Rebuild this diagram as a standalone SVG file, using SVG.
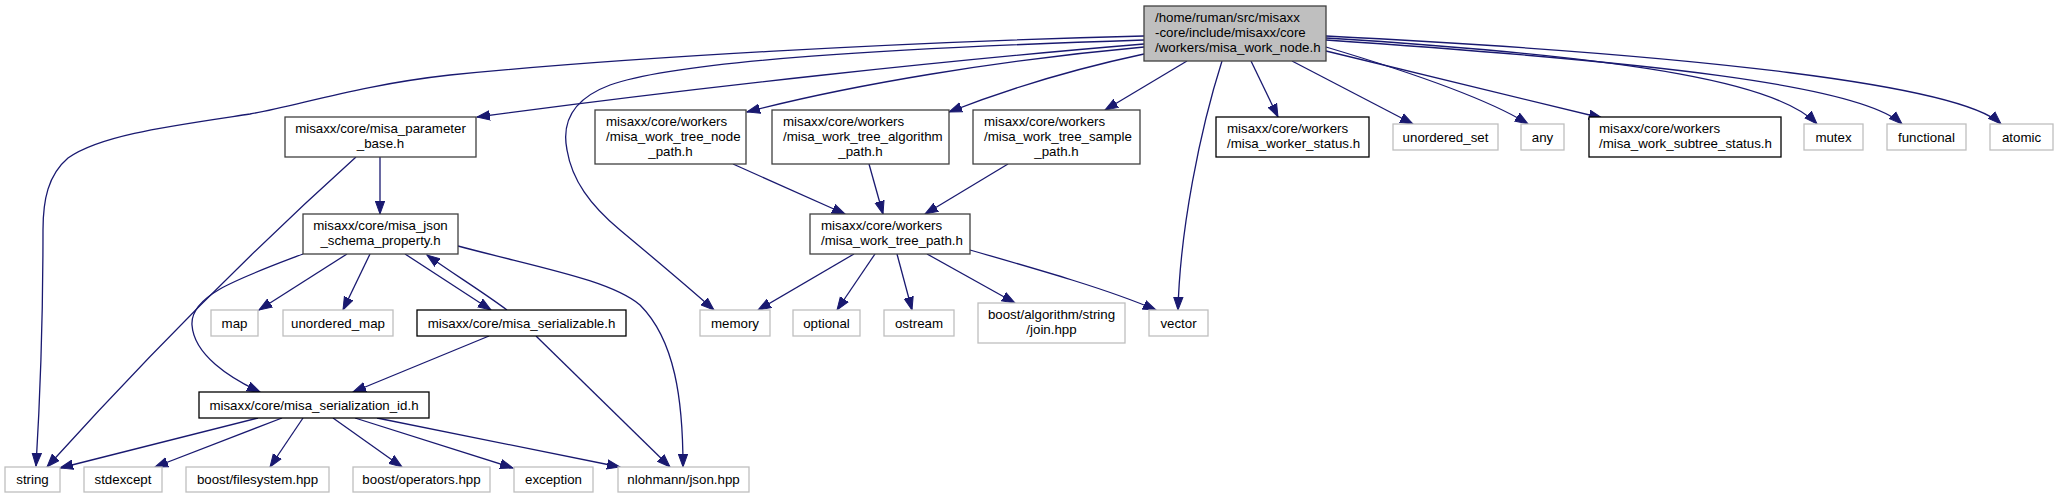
<svg xmlns="http://www.w3.org/2000/svg" width="2058" height="499" viewBox="0 0 2058 499">
<style>
text{font-family:"Liberation Sans",Arial,sans-serif;font-size:13.3px;fill:#000}
.c{text-anchor:middle}
.n rect{fill:#fff;stroke:#000;stroke-width:1.3}
.n.g rect{stroke:#404040}
.n.s rect{stroke:#bfbfbf}
.n.r rect{fill:#bfbfbf;stroke:#404040}
#edges path{fill:none;stroke:#191970;stroke-width:1.3;marker-end:url(#ah)}
</style>
<defs>
<marker id="ah" markerUnits="userSpaceOnUse" markerWidth="14" markerHeight="11" refX="13" refY="5" orient="auto" viewBox="0 0 14 10">
<path d="M0,0.3 L13,5 L0,9.7 z" fill="#191970" stroke="#191970" stroke-width="1"/>
</marker>
</defs>
<rect width="2058" height="499" fill="#fff"/>
<g id="edges">
<path d="M1144,36 C900,42 620,58 450,75 C360,85 300,105 250,114 C170,126 100,135 68,158 C48,175 43,200 43,230 C43,300 40,400 36,466"/>
<path d="M1144,44 C950,60 700,87 477,117"/>
<path d="M1144,40 C900,48 680,60 610,85 C570,100 562,125 567,150 C572,180 590,205 620,230 C650,255 680,280 714,310"/>
<path d="M1144,47 C1000,60 850,85 747,112"/>
<path d="M1144,54 C1060,72 1000,92 949,112"/>
<path d="M1187,61 L1105,110"/>
<path d="M1222,61 C1200,130 1180,230 1178,310"/>
<path d="M1251,61 L1278,117"/>
<path d="M1292,61 L1413,124"/>
<path d="M1326,47 C1420,75 1490,100 1528,124"/>
<path d="M1326,51 L1602,118"/>
<path d="M1326,38 C1650,58 1780,85 1817,124"/>
<path d="M1326,40 C1650,62 1860,85 1902,124"/>
<path d="M1326,36 C1700,55 1960,85 2001,124"/>
<path d="M380,157 L380,214"/>
<path d="M356,157 C245,257 142,362 47,467"/>
<path d="M347,254 L259,310"/>
<path d="M370,254 L343,310"/>
<path d="M303,254 C240,278 190,295 192,325 C194,355 230,378 260,392"/>
<path d="M405,254 L491,310"/>
<path d="M507,310 C480,290 455,275 427,255"/>
<path d="M458,246 C540,268 610,280 640,305 C675,340 683,400 683,467"/>
<path d="M489,336 L353,392"/>
<path d="M536,336 L670,467"/>
<path d="M258,418 L60,468"/>
<path d="M282,418 L155,467"/>
<path d="M303,418 L270,467"/>
<path d="M333,418 L402,467"/>
<path d="M355,418 L513,468"/>
<path d="M377,418 L620,467"/>
<path d="M733,164 L845,214"/>
<path d="M869,164 L883,214"/>
<path d="M1008,164 L925,214"/>
<path d="M854,254 L758,310"/>
<path d="M875,254 L837,310"/>
<path d="M897,254 L912,310"/>
<path d="M927,254 L1015,303"/>
<path d="M970,250 C1040,270 1110,290 1156,310"/>
</g>
<g id="root" class="n r"><rect x="1144" y="6" width="182" height="55"/><text x="1155" y="22">/home/ruman/src/misaxx</text><text x="1155" y="37">-core/include/misaxx/core</text><text x="1155" y="52">/workers/misa_work_node.h</text></g>
<g id="param_base" class="n g"><rect x="285" y="117" width="191" height="40"/><text class="c" x="380.5" y="133">misaxx/core/misa_parameter</text><text class="c" x="380.5" y="148">_base.h</text></g>
<g id="json_schema" class="n g"><rect x="303" y="214" width="155" height="40"/><text class="c" x="380.5" y="230">misaxx/core/misa_json</text><text class="c" x="380.5" y="245">_schema_property.h</text></g>
<g id="node_path" class="n g"><rect x="595" y="110" width="151" height="54"/><text x="606" y="126">misaxx/core/workers</text><text x="606" y="141">/misa_work_tree_node</text><text class="c" x="670.5" y="156">_path.h</text></g>
<g id="algorithm_path" class="n g"><rect x="772" y="110" width="177" height="54"/><text x="783" y="126">misaxx/core/workers</text><text x="783" y="141">/misa_work_tree_algorithm</text><text class="c" x="860.5" y="156">_path.h</text></g>
<g id="sample_path" class="n g"><rect x="973" y="110" width="167" height="54"/><text x="984" y="126">misaxx/core/workers</text><text x="984" y="141">/misa_work_tree_sample</text><text class="c" x="1056.5" y="156">_path.h</text></g>
<g id="worker_status" class="n"><rect x="1216" y="117" width="153" height="40"/><text x="1227" y="133">misaxx/core/workers</text><text x="1227" y="148">/misa_worker_status.h</text></g>
<g id="unordered_set" class="n s"><rect x="1393" y="124" width="105" height="26"/><text class="c" x="1445.5" y="141.5">unordered_set</text></g>
<g id="any" class="n s"><rect x="1521" y="124" width="43" height="26"/><text class="c" x="1542.5" y="141.5">any</text></g>
<g id="subtree_status" class="n"><rect x="1589" y="117" width="192" height="40"/><text x="1599" y="133">misaxx/core/workers</text><text x="1599" y="148">/misa_work_subtree_status.h</text></g>
<g id="mutex" class="n s"><rect x="1804" y="124" width="59" height="26"/><text class="c" x="1833.5" y="141.5">mutex</text></g>
<g id="functional" class="n s"><rect x="1887" y="124" width="79" height="26"/><text class="c" x="1926.5" y="141.5">functional</text></g>
<g id="atomic" class="n s"><rect x="1990" y="124" width="63" height="26"/><text class="c" x="2021.5" y="141.5">atomic</text></g>
<g id="work_tree_path" class="n g"><rect x="810" y="214" width="160" height="40"/><text x="821" y="230">misaxx/core/workers</text><text x="821" y="245">/misa_work_tree_path.h</text></g>
<g id="map" class="n s"><rect x="211" y="310" width="47" height="26"/><text class="c" x="234.5" y="327.5">map</text></g>
<g id="unordered_map" class="n s"><rect x="283" y="310" width="110" height="26"/><text class="c" x="338" y="327.5">unordered_map</text></g>
<g id="serializable" class="n"><rect x="417" y="310" width="209" height="26"/><text class="c" x="521.5" y="327.5">misaxx/core/misa_serializable.h</text></g>
<g id="memory" class="n s"><rect x="700" y="310" width="70" height="26"/><text class="c" x="735" y="327.5">memory</text></g>
<g id="optional" class="n s"><rect x="793" y="310" width="67" height="26"/><text class="c" x="826.5" y="327.5">optional</text></g>
<g id="ostream" class="n s"><rect x="884" y="310" width="70" height="26"/><text class="c" x="919" y="327.5">ostream</text></g>
<g id="join" class="n s"><rect x="978" y="303" width="147" height="40"/><text class="c" x="1051.5" y="319">boost/algorithm/string</text><text class="c" x="1051.5" y="334">/join.hpp</text></g>
<g id="vector" class="n s"><rect x="1149" y="310" width="59" height="26"/><text class="c" x="1178.5" y="327.5">vector</text></g>
<g id="serialization_id" class="n"><rect x="199" y="392" width="230" height="26"/><text class="c" x="314" y="409.5">misaxx/core/misa_serialization_id.h</text></g>
<g id="string" class="n s"><rect x="5" y="467" width="55" height="25"/><text class="c" x="32.5" y="484">string</text></g>
<g id="stdexcept" class="n s"><rect x="84" y="467" width="78" height="25"/><text class="c" x="123" y="484">stdexcept</text></g>
<g id="filesystem" class="n s"><rect x="186" y="467" width="143" height="25"/><text class="c" x="257.5" y="484">boost/filesystem.hpp</text></g>
<g id="operators" class="n s"><rect x="353" y="467" width="137" height="25"/><text class="c" x="421.5" y="484">boost/operators.hpp</text></g>
<g id="exception" class="n s"><rect x="514" y="467" width="79" height="25"/><text class="c" x="553.5" y="484">exception</text></g>
<g id="nlohmann" class="n s"><rect x="618" y="467" width="131" height="25"/><text class="c" x="683.5" y="484">nlohmann/json.hpp</text></g>
</svg>
